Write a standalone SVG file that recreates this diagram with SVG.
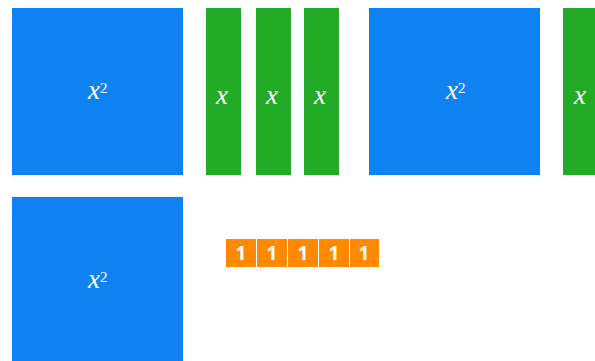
<svg xmlns="http://www.w3.org/2000/svg" width="595" height="361" viewBox="0 0 595 361">
<style>
.sq{fill:#0f82f3}
.bar{fill:#23ab27}
.one{fill:#ff8a00}
.v{font-family:"Liberation Serif","DejaVu Serif",serif;font-style:italic;font-size:27px;fill:#ffffff;text-anchor:middle}
.sup{font-family:"Liberation Serif","DejaVu Serif",serif;font-size:15px;fill:#ffffff}
.n{font-family:"Open Sans","Liberation Sans",sans-serif;font-weight:bold;font-size:19px;fill:#ffffff;text-anchor:middle}
</style>
<rect width="595" height="361" fill="#ffffff"/>
<g id="sq1"><rect class="sq" x="12" y="8" width="171" height="167"/><text class="v" x="94" y="99">x</text><text class="sup" x="100" y="93">2</text></g>
<g id="bar1"><rect class="bar" x="206" y="8" width="35" height="167"/><text class="v" x="222" y="104">x</text></g>
<g id="bar2"><rect class="bar" x="256" y="8" width="35" height="167"/><text class="v" x="272" y="104">x</text></g>
<g id="bar3"><rect class="bar" x="304" y="8" width="35" height="167"/><text class="v" x="320" y="104">x</text></g>
<g id="sq2"><rect class="sq" x="369" y="8" width="171" height="167"/><text class="v" x="452" y="99">x</text><text class="sup" x="458" y="93">2</text></g>
<g id="bar4"><rect class="bar" x="563" y="8" width="35" height="167"/><text class="v" x="580" y="104">x</text></g>
<g id="sq3"><rect class="sq" x="12" y="197" width="171" height="167"/><text class="v" x="94" y="288">x</text><text class="sup" x="100" y="282">2</text></g>
<g id="ones">
<rect class="one" x="226" y="239" width="30" height="28"/><text class="n" x="241" y="260">1</text>
<rect class="one" x="257" y="239" width="30" height="28"/><text class="n" x="272" y="260">1</text>
<rect class="one" x="288" y="239" width="30" height="28"/><text class="n" x="303" y="260">1</text>
<rect class="one" x="319" y="239" width="30" height="28"/><text class="n" x="334" y="260">1</text>
<rect class="one" x="350" y="239" width="29" height="28"/><text class="n" x="364" y="260">1</text>
</g>
<g id="connectors"/>
</svg>
